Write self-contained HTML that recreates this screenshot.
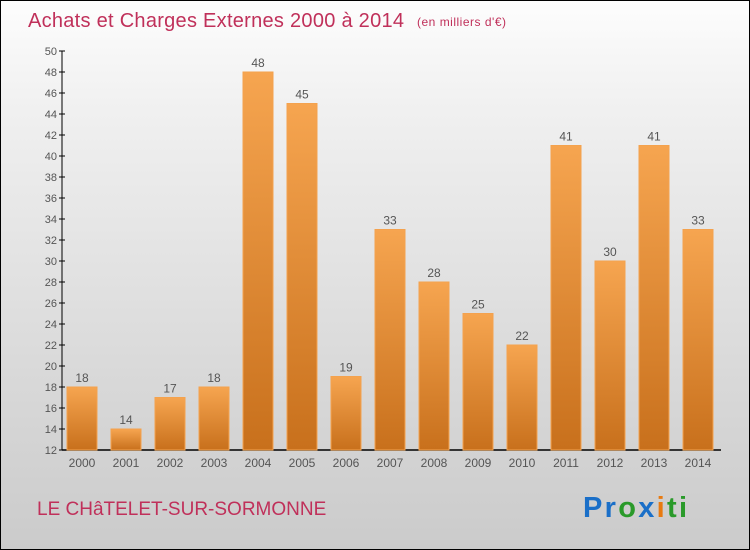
<!DOCTYPE html>
<html><head><meta charset="utf-8"><style>
body{margin:0;}
#c{width:748px;height:548px;border:1px solid #000;background:linear-gradient(#fdfdfd,#f0f0f0 20%,#d8d8d8 70%,#cbcbcb);position:relative;font-family:"Liberation Sans",sans-serif;overflow:hidden}
</style></head><body>
<div id="c">
<svg width="748" height="548">
<defs><linearGradient id="g" x1="0" y1="0" x2="0" y2="1"><stop offset="0" stop-color="#f6a550"/><stop offset="1" stop-color="#c8701c"/></linearGradient></defs>
<text x="27" y="26" font-size="20" fill="#c0305a" textLength="376">Achats et Charges Externes 2000 à 2014</text>
<text x="416" y="25" font-size="12" fill="#c0305a" textLength="89">(en milliers d'€)</text>
<g id="axes"></g><g id="bars"></g>
<text x="36" y="514" font-size="19" fill="#c0305a">LE CHâTELET-SUR-SORMONNE</text>
<text x="582" y="516" font-size="29" font-weight="bold" textLength="104"><tspan fill="#1a6fc8">Pr</tspan><tspan fill="#2a9a2a">o</tspan><tspan fill="#1a6fc8">x</tspan><tspan fill="#e87a10">i</tspan><tspan fill="#2a9a2a">ti</tspan></text>
</svg></div>
<script>
const years=["2000","2001","2002","2003","2004","2005","2006","2007","2008","2009","2010","2011","2012","2013","2014"];
const values=[18,14,17,18,48,45,19,33,28,25,22,41,30,41,33];
const yTicks=[12,14,16,18,20,22,24,26,28,30,32,34,36,38,40,42,44,46,48,50];
const NS="http://www.w3.org/2000/svg";
const y=v=>449-(v-12)*10.5, x=i=>81+i*44;
const ax=document.getElementById('axes'), bg=document.getElementById('bars');
function mk(p,t,a){const e=document.createElementNS(NS,t);for(const k in a)e.setAttribute(k,a[k]);p.appendChild(e);return e;}
let l=mk(ax,'line',{x1:61,y1:50,x2:61,y2:449,stroke:'#000'});


l=mk(ax,'line',{x1:61,y1:449,x2:720,y2:449,stroke:'#000','stroke-width':1.5});


yTicks.forEach(t=>{mk(ax,'line',{x1:58,x2:64,y1:y(t),y2:y(t),stroke:'#000'});
const e=mk(ax,'text',{x:56,y:y(t)+4,'font-size':11,fill:'#555','text-anchor':'end'});e.textContent=t;

});
values.forEach((v,i)=>{const r=mk(bg,'rect',{x:x(i)-15,y:y(v),width:30,height:449-y(v),fill:'url(#g)',stroke:'#f4a24e'});


const t=mk(bg,'text',{x:x(i),y:y(v)-5,'font-size':12,fill:'#555','text-anchor':'middle'});t.textContent=v;


const a=mk(bg,'text',{x:x(i),y:466,'font-size':12,fill:'#555','text-anchor':'middle'});a.textContent=years[i];

});
</script></body></html>
